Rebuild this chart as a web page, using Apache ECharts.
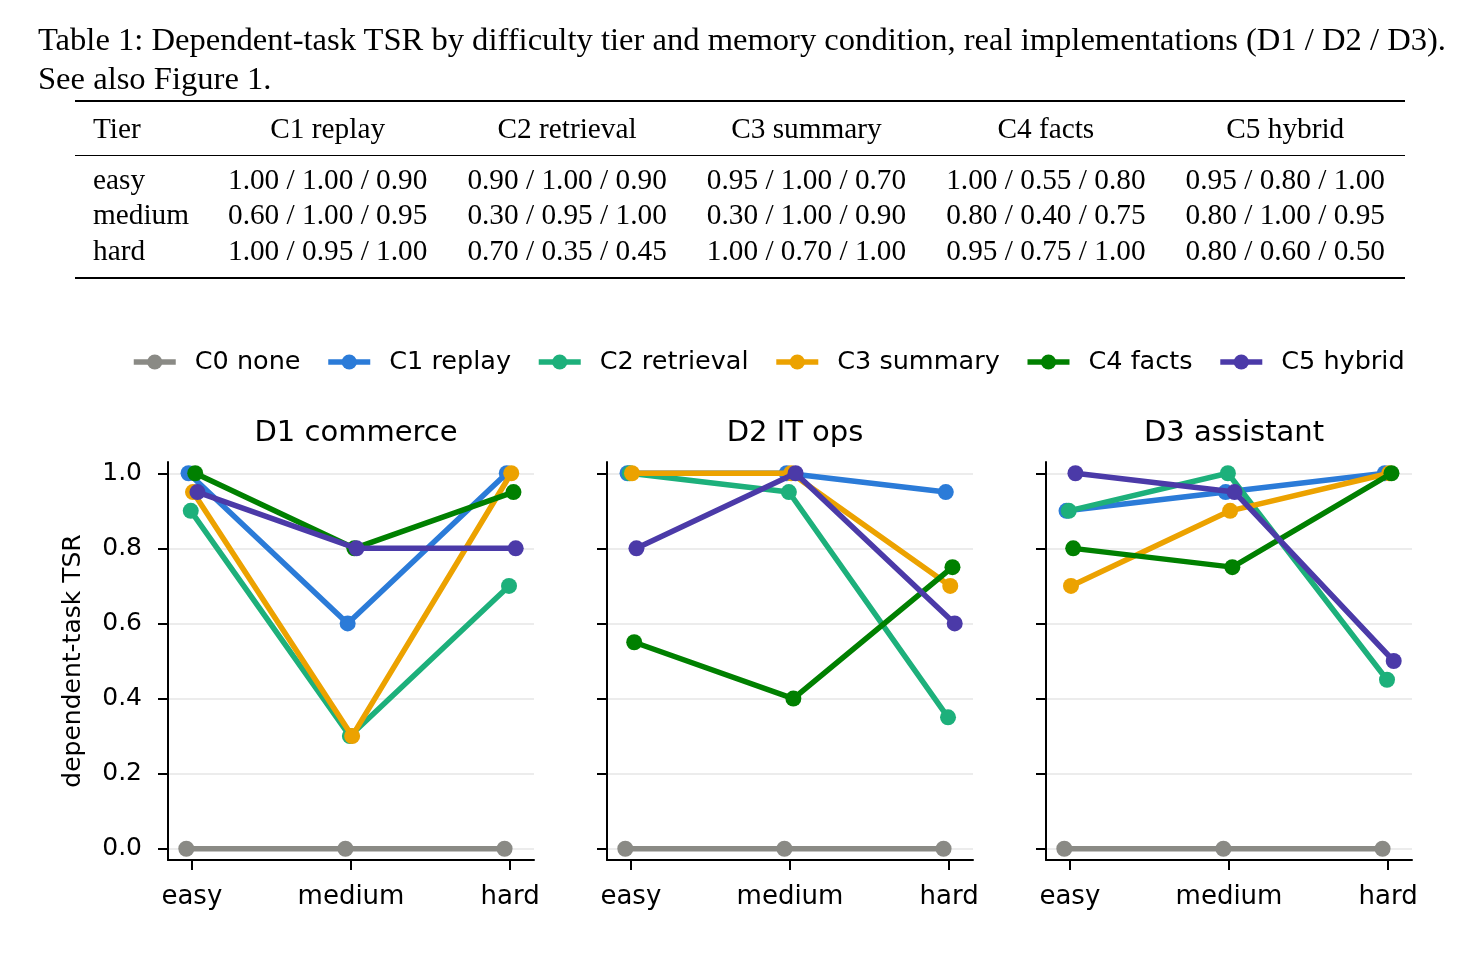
<!DOCTYPE html>
<html>
<head>
<meta charset="utf-8">
<script src="https://cdn.jsdelivr.net/npm/echarts@6/dist/echarts.min.js"></script>
<style>
  html, body { margin: 0; padding: 0; background: #fff; }
  #chart { position: absolute; left: 0; top: 0; width: 1484px; height: 972px; }
  #caption { position: absolute; left: 38px; top: 20px; font-family: "Liberation Serif", serif;
    font-size: 32.6px; line-height: 39px; color: #000; white-space: nowrap; z-index: 2; }
  #tbl { position: absolute; left: 75px; top: 100px; width: 1330px; border-collapse: collapse;
    font-family: "Liberation Serif", serif; font-size: 29.3px; color: #000; z-index: 2;
    border-top: 2px solid #000; border-bottom: 2px solid #000; }
  #tbl td, #tbl th { padding: 0; font-weight: normal; text-align: center; white-space: nowrap; }
  #tbl .first { text-align: left; padding-left: 18px; width: 115px; }
  #tbl thead tr { height: 54px; }
  #tbl thead th { border-bottom: 1.3px solid #000; }
  #tbl tbody tr { height: 35.5px; }
  #tbl tbody tr.pad { height: 6.5px; }
  #tbl tbody tr.pad2 { height: 9.5px; }
</style>
</head>
<body>
<div id="caption">Table 1: Dependent-task TSR by difficulty tier and memory condition, real implementations (D1 / D2 / D3).<br>See also Figure 1.</div>
<table id="tbl"><thead></thead><tbody></tbody></table>
<div id="chart"></div>
<script>
// values per condition: one row per domain (D1, D2, D3), one column per tier
var tiers = ['easy', 'medium', 'hard'];
var domains = ['D1 commerce', 'D2 IT ops', 'D3 assistant'];
var conditions = ['C0 none', 'C1 replay', 'C2 retrieval', 'C3 summary', 'C4 facts', 'C5 hybrid'];
var colors = ['#8a8a85', '#2b7bd8', '#1db07b', '#eca200', '#008000', '#4b3aa8'];
// small horizontal jitter so overlapping markers stay visible
var jitter = [-0.035, -0.021, -0.007, 0.007, 0.021, 0.035];

var c0None      = [[0.00, 0.00, 0.00], [0.00, 0.00, 0.00], [0.00, 0.00, 0.00]];
var c1Replay    = [[1.00, 0.60, 1.00], [1.00, 1.00, 0.95], [0.90, 0.95, 1.00]];
var c2Retrieval = [[0.90, 0.30, 0.70], [1.00, 0.95, 0.35], [0.90, 1.00, 0.45]];
var c3Summary   = [[0.95, 0.30, 1.00], [1.00, 1.00, 0.70], [0.70, 0.90, 1.00]];
var c4Facts     = [[1.00, 0.80, 0.95], [0.55, 0.40, 0.75], [0.80, 0.75, 1.00]];
var c5Hybrid    = [[0.95, 0.80, 0.80], [0.80, 1.00, 0.60], [1.00, 0.95, 0.50]];
var yTicks = [0, 0.2, 0.4, 0.6, 0.8, 1.0];

var allValues = [c0None, c1Replay, c2Retrieval, c3Summary, c4Facts, c5Hybrid];

// table (C1..C5, D1 / D2 / D3 per cell)
(function(){
  var head = '<tr><th class="first">Tier</th>';
  for (var i = 1; i < conditions.length; i++) head += '<th>' + conditions[i] + '</th>';
  document.querySelector('#tbl thead').innerHTML = head + '</tr>';
  var body = '<tr class="pad"><td colspan="6"></td></tr>';
  tiers.forEach(function(t, k){
    body += '<tr><td class="first">' + t + '</td>';
    for (var i = 1; i < allValues.length; i++) {
      body += '<td>' + allValues[i].map(function(row){ return row[k].toFixed(2); }).join(' / ') + '</td>';
    }
    body += '</tr>';
  });
  body += '<tr class="pad2"><td colspan="6"></td></tr>';
  document.querySelector('#tbl tbody').innerHTML = body;
})();

var chart = echarts.init(document.getElementById('chart'));
var font = 'DejaVu Sans';
var gridLefts = [168, 607, 1046];
var gridW = 366;

var grids = [], xAxes = [], yAxes = [], titles = [], series = [];
gridLefts.forEach(function(left, d){
  grids.push({ left: left, top: 462, width: gridW, height: 398 });
  titles.push({
    text: domains[d], left: left + gridW / 2, top: 414, textAlign: 'center',
    textStyle: { fontFamily: font, fontSize: 29, fontWeight: 'normal', color: '#000' }
  });
  xAxes.push({
    type: 'value', gridIndex: d, min: -0.15, max: 2.15,
    axisLine: { onZero: false, lineStyle: { color: '#000', width: 2 } },
    axisTick: { show: true, length: 10, lineStyle: { color: '#000', width: 2 }, customValues: [0, 1, 2] },
    axisLabel: { customValues: [0, 1, 2], margin: 24, fontFamily: font, fontSize: 26, color: '#000',
      formatter: function(v){ return tiers[Math.round(v)]; } },
    splitLine: { show: false }
  });
  yAxes.push({
    type: 'value', gridIndex: d, min: -0.03, max: 1.03,
    name: d === 0 ? 'dependent-task TSR' : '', nameLocation: 'middle', nameGap: 82,
    nameTextStyle: { fontFamily: font, fontSize: 25, color: '#000' },
    axisLine: { show: true, onZero: false, lineStyle: { color: '#000', width: 2 } },
    axisTick: { show: true, length: 10, lineStyle: { color: '#000', width: 2 }, customValues: yTicks },
    axisLabel: { show: d === 0, customValues: yTicks, margin: 26, fontFamily: font, fontSize: 25, color: '#000',
      formatter: function(v){ return v.toFixed(1); } },
    splitLine: { show: true, lineStyle: { color: '#e6e6e6', width: 1.5 } }
  });
  allValues.forEach(function(vals, i){
    series.push({
      name: conditions[i], type: 'line', xAxisIndex: d, yAxisIndex: d,
      data: vals[d].map(function(v, k){ return [k + jitter[i], v]; }),
      symbol: 'circle', symbolSize: 16, color: colors[i],
      lineStyle: { width: 5.5, color: colors[i] }, itemStyle: { color: colors[i] },
      z: 2 + i, animation: false
    });
  });
});

chart.setOption({
  animation: false,
  title: titles,
  legend: {
    data: conditions, left: 126, top: 344, itemWidth: 42, itemHeight: 19, itemGap: 25,
    lineStyle: { width: 5.5 },
    textStyle: { fontFamily: font, fontSize: 25.5, color: '#000', padding: [0, 0, 0, 14] }
  },
  grid: grids, xAxis: xAxes, yAxis: yAxes, series: series
});
</script>
</body>
</html>
